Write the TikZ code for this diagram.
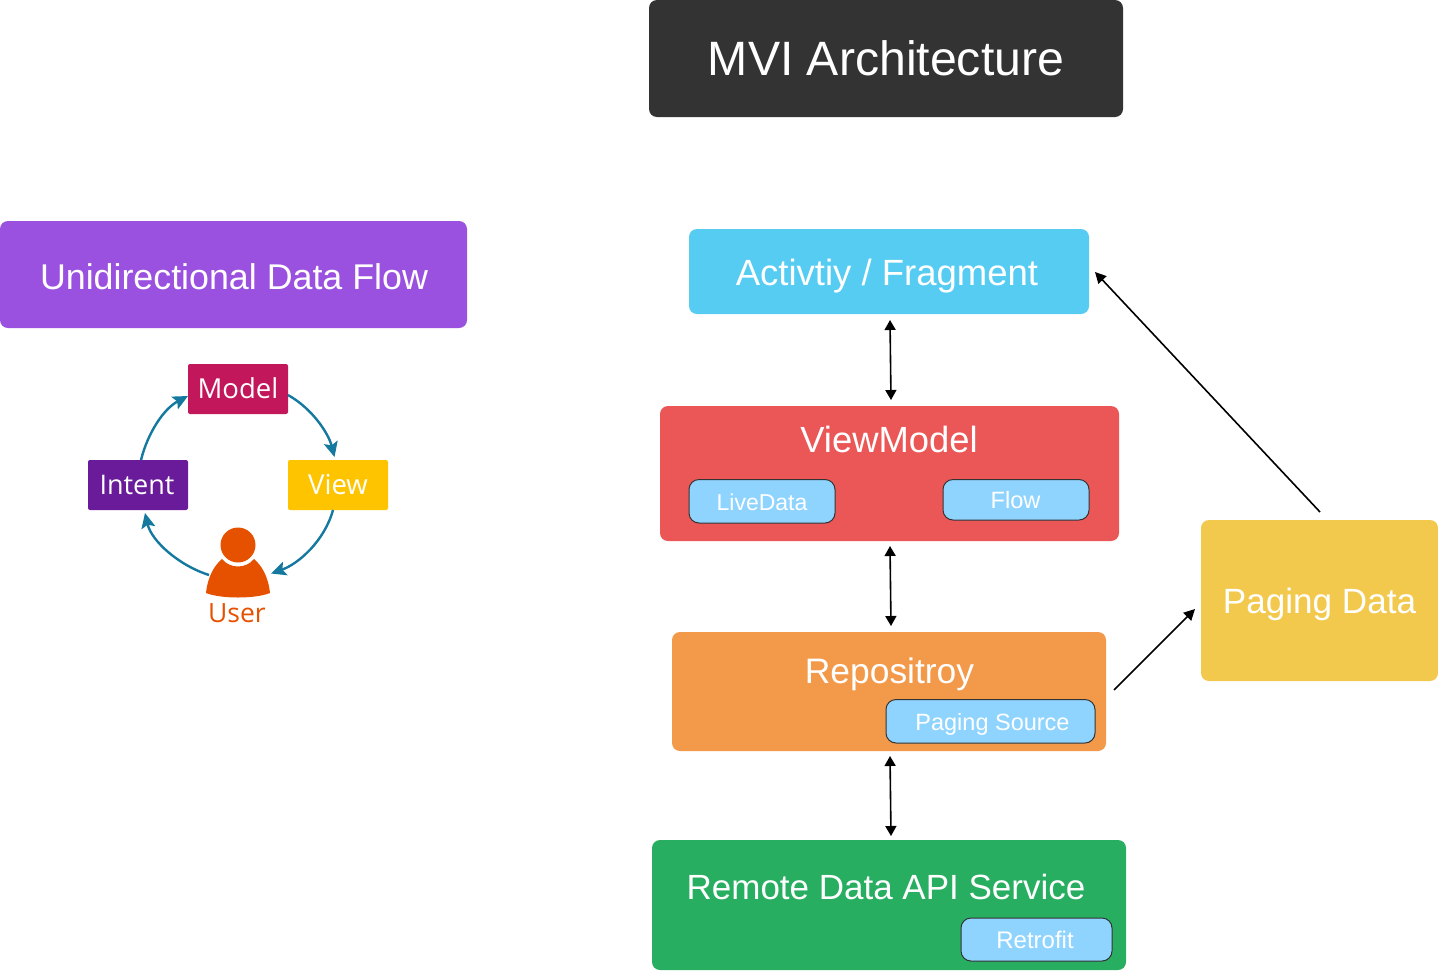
\documentclass[tikz,border=0pt]{standalone}
\usepackage{fontspec}
\setmainfont{Liberation Sans}
\newfontfamily\roundfont{Open Sans}
\usetikzlibrary{arrows.meta,calc}
\newcommand{\fsz}[1]{\fontsize{#1pt}{#1pt}\selectfont}
\definecolor{cTitle}{HTML}{333333}
\definecolor{cUdf}{HTML}{9B51E0}
\definecolor{cAct}{HTML}{56CCF2}
\definecolor{cVm}{HTML}{EB5757}
\definecolor{cRepo}{HTML}{F2994A}
\definecolor{cRemote}{HTML}{27AE60}
\definecolor{cPaging}{HTML}{F2C94C}
\definecolor{cChip}{HTML}{8FD4FF}
\definecolor{cIntent}{HTML}{6A1B9A}
\definecolor{cModel}{HTML}{C2185B}
\definecolor{cView}{HTML}{FFC400}
\definecolor{cUser}{HTML}{E65100}
\definecolor{cCycle}{HTML}{14789F}
\tikzset{
  box/.style={rounded corners=8pt,inner sep=0pt,outer sep=0pt,draw=none},
  chip/.style={rounded corners=10pt,inner sep=0pt,outer sep=0pt,draw=black!80,line width=1pt,fill=cChip},
  small/.style={rounded corners=2pt,inner sep=0pt,outer sep=0pt,draw=none},
  lbl/.style={anchor=base,inner sep=0pt,text=white},
  biarrow/.style={line width=1.6pt,{Triangle[length=10pt,width=11pt]}-{Triangle[length=10pt,width=11pt]}},
  onearrow/.style={line width=1.6pt,-{Triangle[length=11pt,width=11pt]}},
  cyc/.style={line width=2.4pt,draw=cCycle,-{Stealth[length=15pt,width=14pt,inset=3pt]},color=cCycle}
}
\begin{document}
\begin{tikzpicture}[x=1pt,y=-1pt]
\useasboundingbox (0,0) rectangle (1438,970);
% main boxes
\node[box,fill=cTitle,minimum width=474pt,minimum height=117pt] (title) at (886,58.5) {};
\node[box,fill=cUdf,minimum width=467pt,minimum height=107pt] (udf) at (233.5,274.5) {};
\node[box,fill=cAct,minimum width=400pt,minimum height=85pt] (act) at (889,271.5) {};
\node[box,fill=cVm,minimum width=459pt,minimum height=135pt] (vm) at (889.5,473.5) {};
\node[box,fill=cRepo,minimum width=434pt,minimum height=119pt] (repo) at (889,691.5) {};
\node[box,fill=cRemote,minimum width=474pt,minimum height=130pt] (remote) at (889,905) {};
\node[box,fill=cPaging,minimum width=237pt,minimum height=161pt] (paging) at (1319.5,600.5) {};
% chips
\node[chip,minimum width=146pt,minimum height=43.5pt] (live) at (762,501.25) {};
\node[chip,minimum width=146pt,minimum height=40.5pt] (flow) at (1016,499.75) {};
\node[chip,minimum width=209pt,minimum height=43.5pt] (psrc) at (990.5,721.25) {};
\node[chip,minimum width=151pt,minimum height=43pt] (retro) at (1036.5,939.5) {};
% labels
\node[lbl,font=\fsz{48.2}] (tTitle) at (886,75.5) {MVI Architecture};
\node[lbl,font=\fsz{35.8}] (tUdf) at (234,289.5) {Unidirectional Data Flow};
\node[lbl,font=\fsz{36.5}] (tAct) at (887,285.5) {Activtiy / Fragment};
\node[lbl,font=\fsz{36.4}] (tVm) at (889,452) {ViewModel};
\node[lbl,font=\fsz{23}] (tLive) at (762,510) {LiveData};
\node[lbl,font=\fsz{23.6}] (tFlow) at (1015.5,508) {Flow};
\node[lbl,font=\fsz{35.4}] (tRepo) at (889.5,683) {Repositroy};
\node[lbl,font=\fsz{23.5}] (tPsrc) at (992.5,730) {Paging Source};
\node[lbl,font=\fsz{35}] (tRemote) at (886,899) {Remote Data API Service};
\node[lbl,font=\fsz{24}] (tRetro) at (1035,948.5) {Retrofit};
\node[lbl,font=\fsz{35.1}] (tPaging) at (1319.5,613) {Paging Data};
% connectors
\draw[biarrow] ([xshift=1pt,yshift=-6pt]act.south) -- ([xshift=1.5pt,yshift=6pt]vm.north);
\draw[biarrow] ([xshift=.5pt,yshift=-5pt]vm.south) -- ([xshift=2pt,yshift=6pt]repo.north);
\draw[biarrow] ([xshift=1pt,yshift=-5pt]repo.south) -- ([xshift=2pt,yshift=4pt]remote.north);
\draw[onearrow] ([xshift=8pt,yshift=1.5pt]repo.east) -- ([xshift=-6pt,yshift=-8.5pt]paging.west);
\draw[onearrow] ([xshift=.5pt,yshift=8pt]paging.north) -- ([xshift=6pt,yshift=-.5pt]act.east);
% left cycle
\node[small,fill=cModel,minimum width=100pt,minimum height=50pt] (model) at (238,389) {};
\node[small,fill=cIntent,minimum width=100pt,minimum height=50pt] (intent) at (138,485) {};
\node[small,fill=cView,minimum width=100pt,minimum height=50pt] (view) at (338,485) {};
\node[lbl,font=\roundfont\fsz{27.5}] (tModel) at (238,398.5) {Model};
\node[lbl,font=\roundfont\fsz{27}] (tIntent) at (137,494.5) {Intent};
\node[lbl,font=\roundfont\fsz{27.5}] (tView) at (338,494.5) {View};
\node[lbl,font=\roundfont\fsz{26.5}] (tUser) at (237,622) {\textcolor{cUser}{User}};
% user icon
\fill[cUser] (238,545) circle (17.5pt);
\fill[cUser] (206,593) .. controls (208,575) and (215,565) .. (222,559)
  .. controls (226,564) and (232,566.5) .. (238,566.5)
  .. controls (244,566.5) and (250,564) .. (254,559)
  .. controls (261,565) and (268,575) .. (270,593)
  .. controls (255,599) and (221,599) .. (206,593) -- cycle;
\coordinate (userR) at (271,573.5);
\coordinate (userL) at (209,575);
\draw[cyc] ([yshift=-6pt]model.east) .. controls (312.2,408.6) and (328.4,433.1) .. ([xshift=-3.5pt,yshift=3pt]view.north);
\draw[cyc] ([xshift=-5pt]view.south) .. controls (324.5,541) and (298.3,564) .. (userR);
\draw[cyc] (userL) .. controls (178.5,565.3) and (151.4,540.8) .. ([xshift=7pt,yshift=-3pt]intent.south);
\draw[cyc] ([xshift=3pt]intent.north) .. controls (147.6,433.1) and (163.8,408.6) .. ([yshift=-7pt]model.west);
\end{tikzpicture}
\end{document}
